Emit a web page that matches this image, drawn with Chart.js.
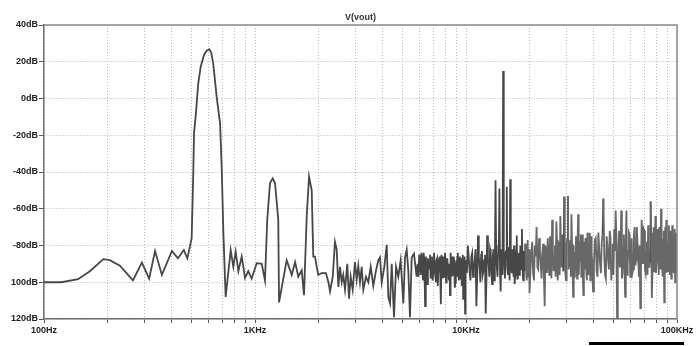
<!DOCTYPE html>
<html>
<head>
<meta charset="utf-8">
<script src="https://cdn.jsdelivr.net/npm/chart.js@4.4.1/dist/chart.umd.min.js"></script>
<style>
  html, body { margin: 0; padding: 0; background: #fff; }
</style>
</head>
<body>
<canvas id="myChart" width="697" height="346"></canvas>
<script>
// fundamental (600Hz) and its 1.2k harmonic, in Hz / dB
const lowHz = [100, 121, 145, 165, 191, 205, 229, 264, 291, 315, 336, 362, 404, 431, 460, 478, 501, 510, 514, 525,
  538, 553, 573, 590, 607, 620, 634, 658, 683, 696, 708, 726, 767, 789, 810, 834, 865, 897, 929, 964,
  1019, 1076, 1115, 1143, 1178, 1213, 1244, 1289, 1300, 1413, 1493, 1549, 1604];
const lowDb = [-100, -100, -98.3, -94, -87.4, -88, -91, -99, -89.3, -98, -83, -96, -83, -87, -82.5, -87, -76, -40, -19, -8,
  8, 17.3, 23.7, 26, 26.8, 25, 19, 1, -13.5, -39, -73, -108, -82.5, -91.6, -83.4, -94, -86, -97.7, -94, -98,
  -89.6, -90, -99, -66, -46, -43.5, -46, -66, -111, -88, -96, -89, -97];

// 1.8k harmonic and the start of the noise floor
const midHz = [1665, 1707, 1758, 1803, 1857, 1889, 1925, 1961, 1995, 2070, 2170, 2225, 2268, 2336, 2393, 2438, 2483, 2529, 2576, 2620,
  2670, 2738, 2790, 2841, 2904, 2978, 3034, 3087, 3145, 3204, 3260, 3357, 3443, 3535, 3637, 3746, 3841, 3913, 3986, 4101,
  4210, 4284, 4365, 4446, 4558, 4660, 4776, 4903, 5046, 5140, 5236, 5328, 5427, 5529, 5669, 5834];
const midDb = [-93.5, -107, -64.5, -42.5, -50, -86, -86, -91.6, -96, -95, -95, -99.7, -105, -97, -78, -82, -102.5, -91.6, -100, -96,
  -104, -90, -109, -97, -104, -89, -98.5, -91, -100, -91.6, -104, -97, -100, -91.6, -102, -93.5, -88, -86.5, -100, -91.6,
  -79.6, -108, -111.5, -90, -119, -91.6, -97, -88, -111.5, -86.5, -82.3, -93.5, -119, -86.5, -84.5, -97];

// noise floor with the 15kHz tone, in kHz / dB
const highKHz = [
  5.9, 6.0, 6.1, 6.2, 6.3, 6.4, 6.5, 6.6, 6.7, 6.8, 6.9, 7.0, 7.1, 7.2, 7.3, 7.4, 7.5, 7.6, 7.7, 7.8,
  7.9, 8.0, 8.1, 8.2, 8.3, 8.4, 8.5, 8.6, 8.7, 8.8, 8.9, 9.0, 9.1, 9.2, 9.3, 9.4, 9.5, 9.6, 9.7, 9.8,
  9.9, 10.0,
  10.2, 10.4, 10.6, 10.8, 11.0, 11.2, 11.4, 11.6, 11.8, 12.0, 12.2, 12.4, 12.6, 12.8, 13.0, 13.2, 13.4, 13.6, 13.8, 14.0,
  14.2, 14.4, 14.6, 14.8, 15.0, 15.2, 15.4, 15.6, 15.8, 16.0, 16.2, 16.4, 16.6, 16.8, 17.0, 17.2, 17.4, 17.6, 17.8, 18.0,
  18.2, 18.4, 18.6, 18.8, 19.0, 19.2, 19.4, 19.6, 19.8, 20.0,
  20.4, 20.8, 21.2, 21.6, 22.0, 22.4, 22.8, 23.2, 23.6, 24.0, 24.4, 24.8, 25.2, 25.6, 26.0, 26.4, 26.8, 27.2, 27.6, 28.0,
  28.4, 28.8, 29.2, 29.6, 30.0, 30.4, 30.8, 31.2, 31.6, 32.0, 32.2, 32.4, 32.8, 33.2, 33.6, 34.0, 34.4, 34.8, 35.2, 35.6,
  36.0, 36.4, 36.8, 37.2, 37.6, 38.0, 38.4, 38.8, 39.2, 39.6, 40.0,
  40.8, 41.6, 42.4, 43.2, 44.0, 44.8, 45.6, 46.4, 47.2, 48.0, 48.8, 49.6, 50.4, 51.2, 52.0, 52.8, 53.6, 54.4, 55.2, 56.0,
  56.8, 57.6, 58.4, 59.2, 60.0,
  61, 62, 63, 64, 65, 66, 67, 68, 69, 70, 71, 72, 73, 74, 75, 76, 77, 78, 79, 80,
  81, 82, 83, 84, 85, 86, 87, 88, 89, 90, 91, 92, 93, 94, 95, 96, 97, 98, 99, 100];
const highDb = [
  -90, -85, -96, -88, -84, -113, -92, -87, -90, -98, -86, -95, -89, -100, -87, -93, -86, -112, -90, -86,
  -97, -88, -94, -87, -99, -107, -89, -86, -96, -90, -100, -88, -86, -95, -90, -98, -87, -93, -109, -91,
  -117, -88,
  -80, -94, -86, -97, -88, -113, -74.5, -92, -85, -96, -88, -117, -74.5, -90, -82, -95, -86, -99, -44.5, -92,
  -84, -49, -105, -88, 15, -90, -84, -48, -96, -87, -44, -93, -82, -97, -101, -85, -74.5, -95, -84, -92,
  -86, -71, -97, -83, -94, -85, -99, -77, -90, -106,
  -84, -95, -80, -70, -93, -82, -98, -79, -113, -86, -76, -96, -83, -66, -94, -80, -67, -99, -78, -64,
  -92, -81, -53.5, -96, -79, -53, -90, -77, -63, -94, -108, -80, -92, -75, -98, -63, -88, -78, -97, -74,
  -107, -82, -76, -95, -73, -90, -79, -99, -75, -88, -105,
  -77, -94, -73, -90, -78, -54.5, -96, -75, -88, -72, -99, -79, -71, -61, -120, -80, -92, -61, -95, -74,
  -108, -61, -90, -73, -97,
  -76, -93, -70, -88, -79, -97, -114, -66, -90, -72, -95, -78, -69, -92, -56, -108.5, -80, -94, -64, -88,
  -71, -96, -75, -60, -92, -77, -111, -70, -66, -94, -78, -90, -72, -98, -69, -87, -80, -100, -73, -90];

// in-between bins of the same noise floor, in kHz / dB
const fillKHz = [
  5.95, 6.05, 6.15, 6.25, 6.35, 6.45, 6.55, 6.65, 6.75, 6.85, 6.95, 7.05, 7.15, 7.25, 7.35, 7.45, 7.55, 7.65, 7.75, 7.85,
  7.95, 8.05, 8.15, 8.25, 8.35, 8.45, 8.55, 8.65, 8.75, 8.85, 8.95, 9.05, 9.15, 9.25, 9.35, 9.45, 9.55, 9.65, 9.75, 9.85,
  9.95,
  10.1, 10.3, 10.5, 10.7, 10.9, 11.1, 11.3, 11.5, 11.7, 11.9, 12.1, 12.3, 12.5, 12.7, 12.9, 13.1, 13.3, 13.5, 13.7, 13.9,
  14.1, 14.3, 14.5, 14.7, 14.9, 15.1, 15.3, 15.5, 15.7, 15.9, 16.1, 16.3, 16.5, 16.7, 16.9, 17.1, 17.3, 17.5, 17.7, 17.9,
  18.1, 18.3, 18.5, 18.7, 18.9, 19.1, 19.3, 19.5, 19.7, 19.9,
  20.2, 20.6, 21.0, 21.4, 21.8, 22.2, 22.6, 23.0, 23.4, 23.8, 24.2, 24.6, 25.0, 25.4, 25.8, 26.2, 26.6, 27.0, 27.4, 27.8,
  28.2, 28.6, 29.0, 29.4, 29.8, 30.2, 30.6, 31.0, 31.4, 31.8, 32.6, 33.0, 33.4, 33.8, 34.2, 34.6, 35.0, 35.4, 35.8, 36.2,
  36.6, 37.0, 37.4, 37.8, 38.2, 38.6, 39.0, 39.4, 39.8,
  40.4, 41.2, 42.0, 42.8, 43.6, 44.4, 45.2, 46.0, 46.8, 47.6, 48.4, 49.2, 50.0, 50.8, 51.6, 52.4, 53.2, 54.0, 54.8, 55.6,
  56.4, 57.2, 58.0, 58.8, 59.6,
  60.5, 61.5, 62.5, 63.5, 64.5, 65.5, 66.5, 67.5, 68.5, 69.5, 70.5, 71.5, 72.5, 73.5, 74.5, 75.5, 76.5, 77.5, 78.5, 79.5,
  80.5, 81.5, 82.5, 83.5, 84.5, 85.5, 86.5, 87.5, 88.5, 89.5, 90.5, 91.5, 92.5, 93.5, 94.5, 95.5, 96.5, 97.5, 98.5, 99.5];
const fillDb = [
  -97, -89, -84, -99, -90, -86, -101, -93, -85, -92, -99, -84, -96, -88, -102, -89, -95, -85, -98, -92,
  -84, -100, -87, -95, -90, -84, -97, -91, -86, -103, -92, -97, -84, -99, -86, -91, -102, -85, -94, -86,
  -96,
  -95, -86, -99, -84, -93, -82, -97, -86, -100, -83, -94, -85, -98, -87, -97, -84, -101, -82, -93, -85,
  -97, -86, -95, -82, -96, -85, -98, -83, -92, -81, -99, -84, -95, -86, -80, -96, -83, -98, -87, -96,
  -80, -93, -84, -99, -88, -79, -95, -86, -97, -82,
  -94, -78, -99, -86, -92, -76, -90, -84, -97, -80, -95, -86, -75, -98, -82, -90, -97, -77, -88, -96,
  -80, -74, -94, -85, -99, -76, -93, -83, -97, -79, -97, -84, -91, -77, -96, -82, -74, -89, -98, -78,
  -93, -85, -99, -81, -96, -73, -91, -84, -97,
  -90, -76, -97, -82, -95, -74, -85, -98, -80, -93, -76, -89, -96, -83, -75, -93, -72, -86, -98, -81,
  -92, -77, -96, -83, -74,
  -84, -95, -74, -91, -70, -88, -80, -95, -77, -71, -93, -83, -96, -79, -89, -73, -94, -70, -86, -95,
  -79, -88, -70, -93, -81, -97, -72, -89, -95, -76, -85, -69, -96, -80, -88, -74, -95, -71, -86, -95];

const xTickValues = [100, 200, 300, 400, 500, 600, 700, 800, 900,
  1000, 2000, 3000, 4000, 5000, 6000, 7000, 8000, 9000,
  10000, 20000, 30000, 40000, 50000, 60000, 70000, 80000, 90000, 100000];
const xLabelValues = [100, 1000, 10000, 100000];
const xLabels = ['100Hz', '1KHz', '10KHz', '100KHz'];

const yTickValues = [40, 20, 0, -20, -40, -60, -80, -100, -120];
const yLabels = ['40dB', '20dB', '0dB', '-20dB', '-40dB', '-60dB', '-80dB', '100dB', '120dB'];

const points = [];
lowHz.forEach((f, i) => points.push({ x: f, y: lowDb[i] }));
midHz.forEach((f, i) => points.push({ x: f, y: midDb[i] }));
highKHz.forEach((f, i) => points.push({ x: f * 1000, y: highDb[i] }));
fillKHz.forEach((f, i) => points.push({ x: f * 1000, y: fillDb[i] }));
points.sort((a, b) => a.x - b.x);

const labelFont = { family: 'Liberation Sans', size: 9, weight: 'bold' };

const frame = {
  id: 'frame',
  afterDraw(chart) {
    const { ctx, chartArea: a } = chart;
    ctx.save();
    ctx.strokeStyle = '#8a8a8a';
    ctx.lineWidth = 1.5;
    ctx.beginPath();
    ctx.moveTo(a.left, a.top);
    ctx.lineTo(a.right, a.top);
    ctx.lineTo(a.right, a.bottom);
    ctx.stroke();
    // black rule printed under the plot
    ctx.fillStyle = '#000';
    ctx.fillRect(a.right - 88, 342, 95, 3);
    ctx.restore();
  }
};

const gridLines = {
  color: '#b8b8b8',
  lineWidth: 1,
  drawTicks: true,
  tickColor: '#555',
  tickBorderDash: []
};

new Chart(document.getElementById('myChart'), {
  type: 'line',
  data: {
    datasets: [{
      data: points,
      borderColor: '#474747',
      borderWidth: 1.8,
      pointRadius: 0,
      tension: 0,
      segment: {
        borderColor: (c) => c.p0.parsed.x > 19000 && c.p1.parsed.y < -58 ? '#686868' : undefined
      }
    }]
  },
  options: {
    responsive: false,
    animation: false,
    layout: { padding: { left: 0, right: 20, top: 0, bottom: 0 } },
    plugins: {
      legend: { display: false },
      tooltip: { enabled: false },
      title: {
        display: true,
        text: 'V(vout)',
        fullSize: false,
        color: '#333',
        font: labelFont,
        padding: { top: 12, bottom: 2.2 }
      }
    },
    scales: {
      x: {
        type: 'logarithmic',
        min: 100,
        max: 100000,
        afterBuildTicks: (scale) => { scale.ticks = xTickValues.map(v => ({ value: v })); },
        afterFit: (scale) => { scale.height = 27; },
        ticks: {
          autoSkip: false,
          maxRotation: 0,
          padding: 2,
          color: '#222',
          font: labelFont,
          callback: (v) => {
            const i = xLabelValues.indexOf(v);
            return i >= 0 ? xLabels[i] : '';
          }
        },
        grid: { ...gridLines, tickLength: 4 },
        border: { display: true, color: '#707070', width: 1.5, dash: [1, 2] }
      },
      y: {
        min: -120,
        max: 40,
        afterBuildTicks: (scale) => { scale.ticks = yTickValues.map(v => ({ value: v })); },
        afterFit: (scale) => { scale.width = 44; },
        ticks: {
          padding: 1,
          color: '#222',
          font: labelFont,
          callback: (v) => {
            const i = yTickValues.indexOf(v);
            return i >= 0 ? yLabels[i] : '';
          }
        },
        grid: { ...gridLines, tickLength: 5 },
        border: { display: true, color: '#707070', width: 1.5, dash: [1, 2] }
      }
    }
  },
  plugins: [frame]
});
</script>
</body>
</html>
